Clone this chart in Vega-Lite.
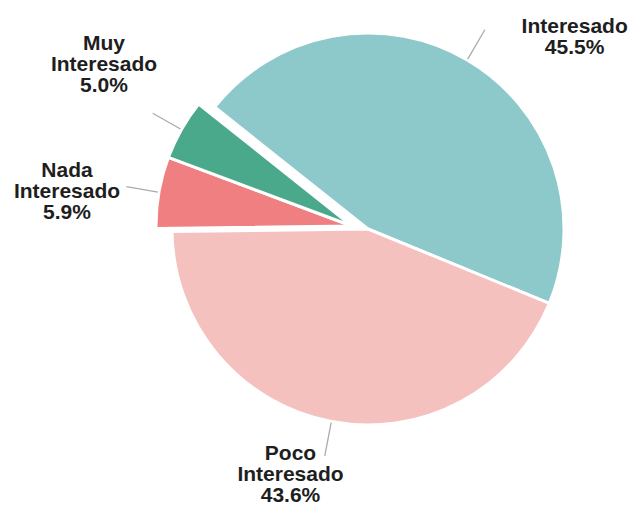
{
  "$schema": "https://vega.github.io/schema/vega-lite/v6.json",
  "width": 400,
  "height": 400,
  "autosize": {"type": "none"},
  "padding": {"left": 168, "top": 29, "right": 64, "bottom": 76},
  "background": "white",
  "config": {"view": {"stroke": null}},
  "data": {
    "values": [
      {"categoria": "Interesado", "pct": 45.5, "orden": 1, "etiqueta": ["Interesado", "45.5%"]},
      {"categoria": "Poco Interesado", "pct": 43.6, "orden": 2, "etiqueta": ["Poco", "Interesado", "43.6%"]},
      {"categoria": "Nada Interesado", "pct": 5.9, "orden": 3, "etiqueta": ["Nada", "Interesado", "5.9%"]},
      {"categoria": "Muy Interesado", "pct": 5.0, "orden": 4, "etiqueta": ["Muy", "Interesado", "5.0%"]}
    ]
  },
  "transform": [
    {"stack": "pct", "groupby": [], "as": ["a0", "a1"], "sort": [{"field": "orden", "order": "ascending"}]}
  ],
  "layer": [
    {
      "transform": [{"filter": "datum.orden <= 2"}],
      "mark": {"type": "arc", "radius": 196, "stroke": "white", "strokeWidth": 3},
      "encoding": {
        "theta": {"field": "a0", "type": "quantitative", "scale": {"domain": [0, 100], "range": [-0.8988, 5.3844]}},
        "theta2": {"field": "a1"},
        "color": {"field": "categoria", "type": "nominal", "legend": null,
          "scale": {"domain": ["Interesado", "Poco Interesado", "Nada Interesado", "Muy Interesado"],
                    "range": ["#8DC9CB", "#F4C1BF", "#EF7F81", "#4BA98B"]}}
      }
    },
    {
      "transform": [{"filter": "datum.orden > 2"}],
      "mark": {"type": "arc", "radius": 196, "stroke": "white", "strokeWidth": 3, "xOffset": -16, "yOffset": -3},
      "encoding": {
        "theta": {"field": "a0", "type": "quantitative", "scale": {"domain": [0, 100], "range": [-0.8988, 5.3844]}},
        "theta2": {"field": "a1"},
        "color": {"field": "categoria", "type": "nominal", "legend": null,
          "scale": {"domain": ["Interesado", "Poco Interesado", "Nada Interesado", "Muy Interesado"],
                    "range": ["#8DC9CB", "#F4C1BF", "#EF7F81", "#4BA98B"]}}
      }
    },
    {
      "transform": [{"filter": "datum.orden <= 2"}],
      "mark": {"type": "arc", "radius": 231, "radius2": 197, "padAngle": 3.3, "filled": false, "stroke": "#ababab", "strokeWidth": 1.3},
      "encoding": {
        "theta": {"field": "a0", "type": "quantitative", "scale": {"domain": [0, 100], "range": [-0.8988, 5.3844]}},
        "theta2": {"field": "a1"}
      }
    },
    {
      "transform": [{"filter": "datum.orden > 2"}],
      "mark": {"type": "arc", "radius": 229, "radius2": 197, "padAngle": 3.3, "filled": false, "stroke": "#ababab", "strokeWidth": 1.3, "xOffset": -16, "yOffset": -3},
      "encoding": {
        "theta": {"field": "a0", "type": "quantitative", "scale": {"domain": [0, 100], "range": [-0.8988, 5.3844]}},
        "theta2": {"field": "a1"}
      }
    },
    {
      "mark": {
        "type": "text",
        "radius": 270,
        "font": "Liberation Sans",
        "fontWeight": "bold",
        "fontSize": 21,
        "lineHeight": 21,
        "align": "center",
        "baseline": "middle",
        "color": "#1e1e1e",
        "dx": {"expr": "datum.orden == 1 ? 70 : datum.orden == 2 ? -27 : datum.orden == 3 ? -35 : -29"},
        "dy": {"expr": "datum.orden == 1 ? 31 : datum.orden == 2 ? -40 : datum.orden == 3 ? -12 : -52"}
      },
      "encoding": {
        "theta": {"field": "pct", "type": "quantitative", "stack": true, "scale": {"domain": [0, 100], "range": [-0.8988, 5.3844]}},
        "order": {"field": "orden", "type": "quantitative"},
        "text": {"field": "etiqueta"}
      }
    }
  ]
}
